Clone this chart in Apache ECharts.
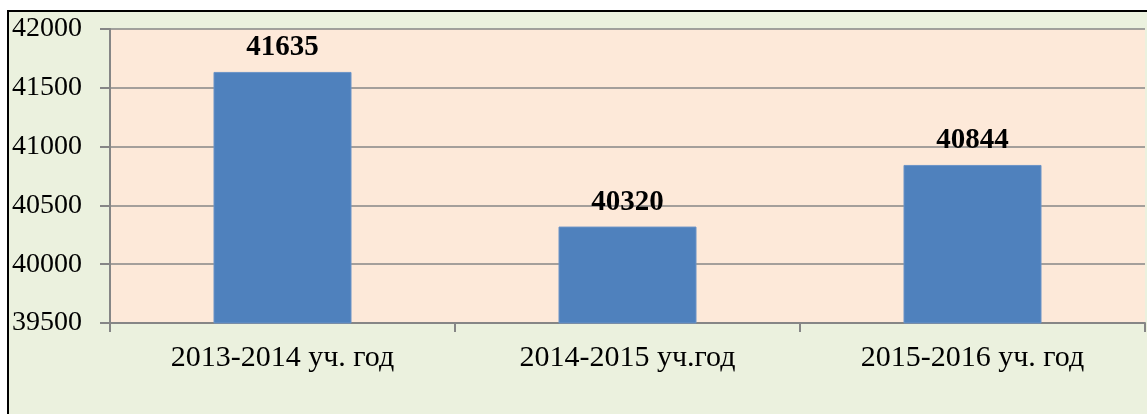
<!DOCTYPE html>
<html>
<head>
<meta charset="utf-8">
<script src="https://cdn.jsdelivr.net/npm/echarts@6/dist/echarts.min.js"></script>
<style>
html,body{margin:0;padding:0;background:#ffffff;}
#chart{width:1147px;height:414px;}
</style>
</head>
<body>
<div id="chart"></div>
<script>
var categories = ['2013-2014 уч. год', '2014-2015 уч.год', '2015-2016 уч. год'];
var values = [41635, 40320, 40844];
var yMin = 39500, yMax = 42000, yStep = 500;

var chart = echarts.init(document.getElementById('chart'));
chart.setOption({
  animation: false,
  backgroundColor: 'transparent',
  graphic: [{
    type: 'rect',
    z: -10,
    silent: true,
    shape: {x: 8, y: 11, width: 1170, height: 430},
    style: {fill: '#ebf1de', stroke: '#000000', lineWidth: 2}
  }],
  grid: {
    left: 110, right: 2, top: 29, bottom: 91,
    show: true, backgroundColor: '#fde9d9', borderWidth: 0
  },
  xAxis: {
    type: 'category',
    data: categories,
    axisLine: {lineStyle: {color: '#868686', width: 2}},
    axisTick: {show: true, length: 9, lineStyle: {color: '#868686', width: 2}},
    axisLabel: {
      margin: 20, color: '#000000',
      fontFamily: 'Liberation Serif', fontSize: 30
    }
  },
  yAxis: {
    type: 'value',
    min: yMin, max: yMax, interval: yStep,
    axisLine: {show: true, lineStyle: {color: '#868686', width: 2}},
    axisTick: {show: true, length: 10, lineStyle: {color: '#868686', width: 2}},
    splitLine: {lineStyle: {color: '#868686', width: 1.5}},
    axisLabel: {
      margin: 28, color: '#000000',
      fontFamily: 'Liberation Serif', fontSize: 28,
      formatter: function (v) { return String(v); }
    }
  },
  series: [{
    type: 'bar',
    data: values,
    barWidth: '40%',
    itemStyle: {color: '#4f81bd', borderColor: '#6b93c7', borderWidth: 1},
    label: {
      show: true, position: 'top', distance: 10,
      color: '#000000', fontFamily: 'Liberation Serif',
      fontSize: 29, fontWeight: 'bold'
    }
  }]
});
</script>
</body>
</html>
